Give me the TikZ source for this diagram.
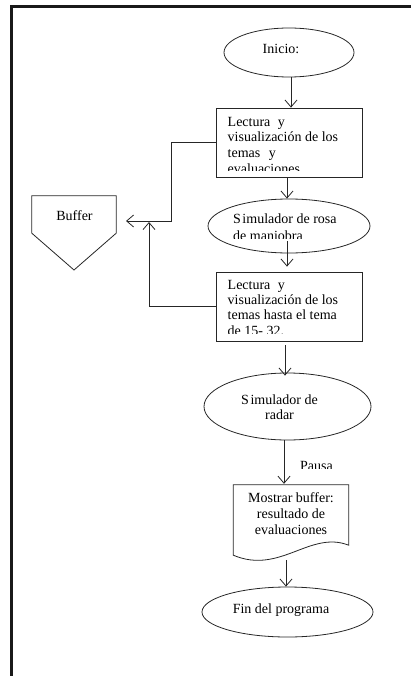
\documentclass[tikz,border=0pt]{standalone}
\usepackage{fontspec}
\setmainfont{Liberation Serif}
\usetikzlibrary{shapes.geometric,arrows.meta}
\begin{document}
\begin{tikzpicture}[x=1pt,y=-1pt,
  line/.style={draw=black!85,line width=0.8pt},
  arr/.style={line,-{Straight Barb[length=7pt,width=12pt]}},
  term/.style={ellipse,line,inner sep=0pt},
  proc/.style={rectangle,line,inner sep=0pt},
  txt/.style={inner sep=0pt,font=\fontsize{14}{15.4}\selectfont},
  lw/.style={txt,anchor=base west},
  lc/.style={txt,anchor=base},
]
\useasboundingbox (0,0) rectangle (411,676);

% page frame: only the top and left rules are visible
\draw[line width=2.4pt,black!90] (11.5,676) -- (11.5,6.5) -- (411,6.5);

% --- shapes of the main column ---
\node[term,minimum width=130pt,minimum height=49pt] (inicio) at (289,52.5) {};
\node[proc,minimum width=146pt,minimum height=69pt] (box1) at (289,142.5) {};
\node[term,minimum width=162pt,minimum height=54pt] (sim1) at (289,226) {};
\node[proc,minimum width=146pt,minimum height=69pt] (box2) at (289,306.5) {};
\node[term,minimum width=167pt,minimum height=67pt] (sim2) at (287.5,406.5) {};
\node[minimum width=115pt,minimum height=70pt,inner sep=0pt] (doc) at (291,520) {};
\node[term,minimum width=171pt,minimum height=50pt] (fin) at (287.5,612) {};

% document shape with a wavy lower edge
\draw[line] (doc.north west) -- (doc.north east) -- ([yshift=10pt]doc.south east)
  .. controls (310,530) and (280,575) .. (doc.south west) -- cycle;

% off-page connector shaped buffer
\node[minimum width=84pt,minimum height=37pt,inner sep=0pt] (buffer) at (74,214.5) {};
\draw[line] (buffer.north west) -- (buffer.north east) -- (buffer.south east)
  -- (74,270) -- (buffer.south west) -- cycle;

% --- texts ---
\node[lc] (tinicio) at (281,53.3) {Inicio:};

\begin{scope}
  \clip (box1.north west) rectangle ([yshift=6.5pt]box1.south east);
  \node[lw] (t1a) at (227.5,126.5) {Lectura\hspace{4pt} y};
  \node[lw] (t1b) at (227.5,142) {visualización de los};
  \node[lw] (t1c) at (227.5,157.5) {temas\hspace{5pt} y};
  \node[lw] (t1d) at (227.5,173.5) {evaluaciones};
\end{scope}

\begin{scope}
  \clip (sim1.north -| sim1.west) rectangle ([yshift=14.5pt]sim1.south -| sim1.east);
  \node[lw] (t2a) at (233,223.5) {S\kern1.5pt imulador de rosa};
  \node[lw] (t2b) at (233,240.5) {de maniobra};
\end{scope}

\begin{scope}
  \clip (box2.north west) rectangle ([yshift=8pt]box2.south east);
  \node[lw] (t3a) at (227.5,289) {Lectura\hspace{4pt} y};
  \node[lw] (t3b) at (227.5,304.3) {visualización de los};
  \node[lw] (t3c) at (227.5,319.6) {temas hasta el tema};
  \node[lw] (t3d) at (227.5,335.5) {de 15- 32.};
\end{scope}

\node[lc] (t4a) at (279.5,404) {S\kern1.5pt imulador de};
\node[lc] (t4b) at (279.5,419) {radar};

\node[lc] (t5a) at (291,502) {Mostrar buffer:};
\node[lc] (t5b) at (291,518) {resultado de};
\node[lc] (t5c) at (291,534) {evaluaciones};

\node[lc] (tfin) at (281,613) {Fin del programa};
\node[lc] (tbuffer) at (74.5,220) {Buffer};

\begin{scope}
  \clip (290,450) rectangle (345,468);
  \node[lw] (tpausa) at (300,470.5) {Pausa};
\end{scope}

% --- connectors ---
\coordinate (j1) at (171,221);
\coordinate (bufin) at (126,221);
\coordinate (j2) at (149,222);

\draw[arr] ([xshift=2pt]inicio.south) -- ([xshift=2pt]box1.north);
\draw[arr] ([xshift=-2pt]box1.south) -- ([xshift=-2pt]sim1.north);
\draw[arr] ([xshift=-2pt,yshift=12pt]sim1.south) -- ([xshift=-2pt,yshift=5pt]box2.north);
\draw[arr] ([xshift=-4pt,yshift=-4pt]box2.south) -- ([xshift=-2.5pt,yshift=-3pt]sim2.north);
\draw[arr] ([xshift=-3.5pt]sim2.south) -- ([xshift=-7pt,yshift=1pt]doc.north);
\draw[arr] ([xshift=-5pt,yshift=-5pt]doc.south) -- ([xshift=-1.5pt]fin.north);

\draw[arr] (box1.west) -| (j1) -- (bufin);
\draw[arr] (box2.west) -| (j2);
\end{tikzpicture}
\end{document}
